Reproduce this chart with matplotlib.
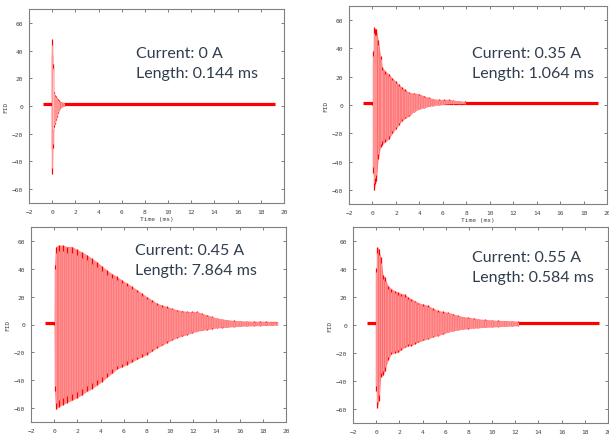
import matplotlib
matplotlib.use("Agg")
import matplotlib.pyplot as plt

# ---- FID envelopes (time in ms, upper / lower peak amplitude) ----
labels = [("Current: 0 A", "Length: 0.144 ms"),
          ("Current: 0.35 A", "Length: 1.064 ms"),
          ("Current: 0.45 A", "Length: 7.864 ms"),
          ("Current: 0.55 A", "Length: 0.584 ms")]

t_a = [0.0, 0.01, 0.05, 0.08, 0.12, 0.2, 0.3, 0.4, 0.5, 0.6, 0.8, 1.0]
up_a = [37, 48, 30, 28, 10, 8, 7, 6, 5, 4, 3, 2.5]
lo_a = [-31, -49, -30, -18, -15, -13, -10, -8, -5, -3, -1, 0]

t_b = [0.0, 0.07, 0.15, 0.24, 0.32, 0.49, 0.69, 0.83, 1.1, 1.4, 1.7, 1.97,
       2.25, 2.53, 2.8, 3.1, 3.5, 3.95, 4.4, 4.8, 5.2, 5.65, 6.1, 6.5, 6.9,
       7.35, 7.9]
up_b = [2, 38, 55, 54, 54, 46, 35, 27, 24, 22, 19, 17, 14.5, 12.5, 11, 9,
        8.5, 8, 6.5, 5.4, 4.5, 4, 4, 4, 3.5, 3, 2.5]
lo_b = [0, -48, -60, -56, -54, -38, -30, -28, -26, -24, -20, -17, -14, -11,
        -9.5, -8, -5, -3, -2, -1, -0.5, 0, 0.5, 1, 1, 1, 1]

t_c = [0.0, 0.04, 0.13, 0.39, 0.75, 1.1, 1.53, 1.97, 2.4, 2.83, 3.26, 3.69,
       4.12, 4.55, 5.0, 5.41, 5.84, 6.27, 6.7, 7.14, 7.57, 8.0, 8.43, 8.86,
       9.3, 9.72, 10.15, 10.58, 11.0, 11.45, 11.9, 12.31, 12.75, 13.17, 13.6,
       14.03, 14.5, 14.9, 15.5, 16.05, 16.6, 17.2, 17.75, 18.3, 18.75, 19.2]
up_c = [2, 43, 56, 57, 57, 56, 56, 54, 52, 50, 47.5, 45, 42, 39, 36.5, 34.5,
        32, 29.7, 27.5, 25, 22.5, 20, 17.7, 15.4, 14, 13, 11.8, 10.6, 10, 9.4,
        9.4, 9.4, 8, 7, 5.8, 4.7, 4, 3.5, 3, 2.7, 2.5, 2.3, 2.3, 2.3, 2, 2]
lo_c = [0, -48, -61, -59, -57.5, -56, -54.5, -52.6, -50.5, -48, -46, -43.5,
        -41, -38, -35, -32, -30.5, -28.8, -27, -25, -23.3, -21.6, -19.2,
        -16.8, -15, -13, -11.3, -9.6, -8.5, -7.3, -6, -4.9, -4.3, -3.7, -3.1,
        -2.5, -2.2, -2, -1.6, -1.3, -1.1, -1, -0.8, -0.7, -0.6, -0.5]

t_d = [0.0, 0.02, 0.1, 0.22, 0.39, 0.59, 0.74, 1.03, 1.31, 1.6, 1.89, 2.18,
       2.47, 2.75, 3.04, 3.33, 3.62, 4.05, 4.48, 4.9, 5.35, 5.8, 6.21, 6.65,
       7.08, 7.5, 7.94, 8.4, 8.81, 9.4, 9.96, 10.5, 11.11, 11.7, 12.27]
up_d = [2, 41, 56, 54.5, 48.5, 36, 34, 28, 26, 24.5, 23.5, 22.5, 22, 20,
        18.7, 17.5, 16, 15, 14, 12, 10.4, 9.7, 9, 8, 6.8, 6, 5.6, 5, 4.4, 4,
        3.7, 3.4, 3.2, 3, 2.7]
lo_d = [0, -47, -59.5, -54, -37, -36, -32.6, -25, -20.6, -20, -19.5, -17.5,
        -16, -15, -14.7, -13.5, -12.3, -11, -9.9, -8.5, -7.5, -6.3, -5.1,
        -4.3, -3.5, -3, -2.7, -2.3, -2, -1.7, -1.5, -1.2, -1, -0.8, -0.5]

# flat line before the pulse and after the decay
base_t = [-0.8, 19.2]
base_y = [1.2, 1.2]

panels = [(t_a, up_a, lo_a), (t_b, up_b, lo_b), (t_c, up_c, lo_c), (t_d, up_d, lo_d)]

# axes boxes in pixels: left, top, right, bottom
boxes = [(29, 10, 284, 204), (349, 7, 607, 205),
         (31, 228, 286, 423), (353, 228, 608, 424)]
text_pos = [(136, 58), (472, 58), (135, 255), (472, 262)]

W, H = 609, 435
fig = plt.figure(figsize=(W / 100, H / 100), dpi=100)

for i, ((t, up, lo), (l, tp, r, b), (tx, ty), (l1, l2)) in enumerate(
        zip(panels, boxes, text_pos, labels)):
    ax = fig.add_axes([l / W, 1 - b / H, (r - l) / W, (b - tp) / H])
    ax.plot(base_t, base_y, color="#ff0000", lw=2.3, solid_capstyle="butt", zorder=2)
    ax.fill_between(t, lo, up, color="#ff8c8c", lw=0, zorder=3)
    ax.vlines(t, lo, up, color="#ff0000", lw=0.9, zorder=4)
    ax.vlines(t[1:], [v * 0.92 for v in lo[1:]], [v * 0.92 for v in up[1:]],
              color="#ffd6d6", lw=0.5, zorder=4)
    ax.set_xlim(-2, 20)
    ax.set_ylim(-70, 70)
    ax.set_xticks(range(-2, 21, 2))
    ax.set_yticks(range(-60, 61, 20))
    ax.tick_params(direction="in", length=2, width=0.6, color="#666666",
                   labelsize=4.5, labelcolor="#444444", top=True, right=True, pad=4)
    for lab in ax.get_xticklabels() + ax.get_yticklabels():
        lab.set_family("DejaVu Sans Mono")
    for s in ax.spines.values():
        s.set_color("#808080")
        s.set_linewidth(0.8)
    if i < 2:
        ax.set_xlabel("Time (ms)", fontsize=4.5, family="DejaVu Sans Mono",
                      color="#444444", labelpad=2)
    ax.set_ylabel("FID", fontsize=4.5, family="DejaVu Sans Mono", color="#444444",
                  labelpad=3)
    fig.text(tx / W, 1 - ty / H, l1, fontsize=11.5, family="Lato", color="#303d4e")
    fig.text(tx / W, 1 - (ty + 20) / H, l2, fontsize=11.5, family="Lato", color="#303d4e")

fig.savefig("out.png", dpi=100)
